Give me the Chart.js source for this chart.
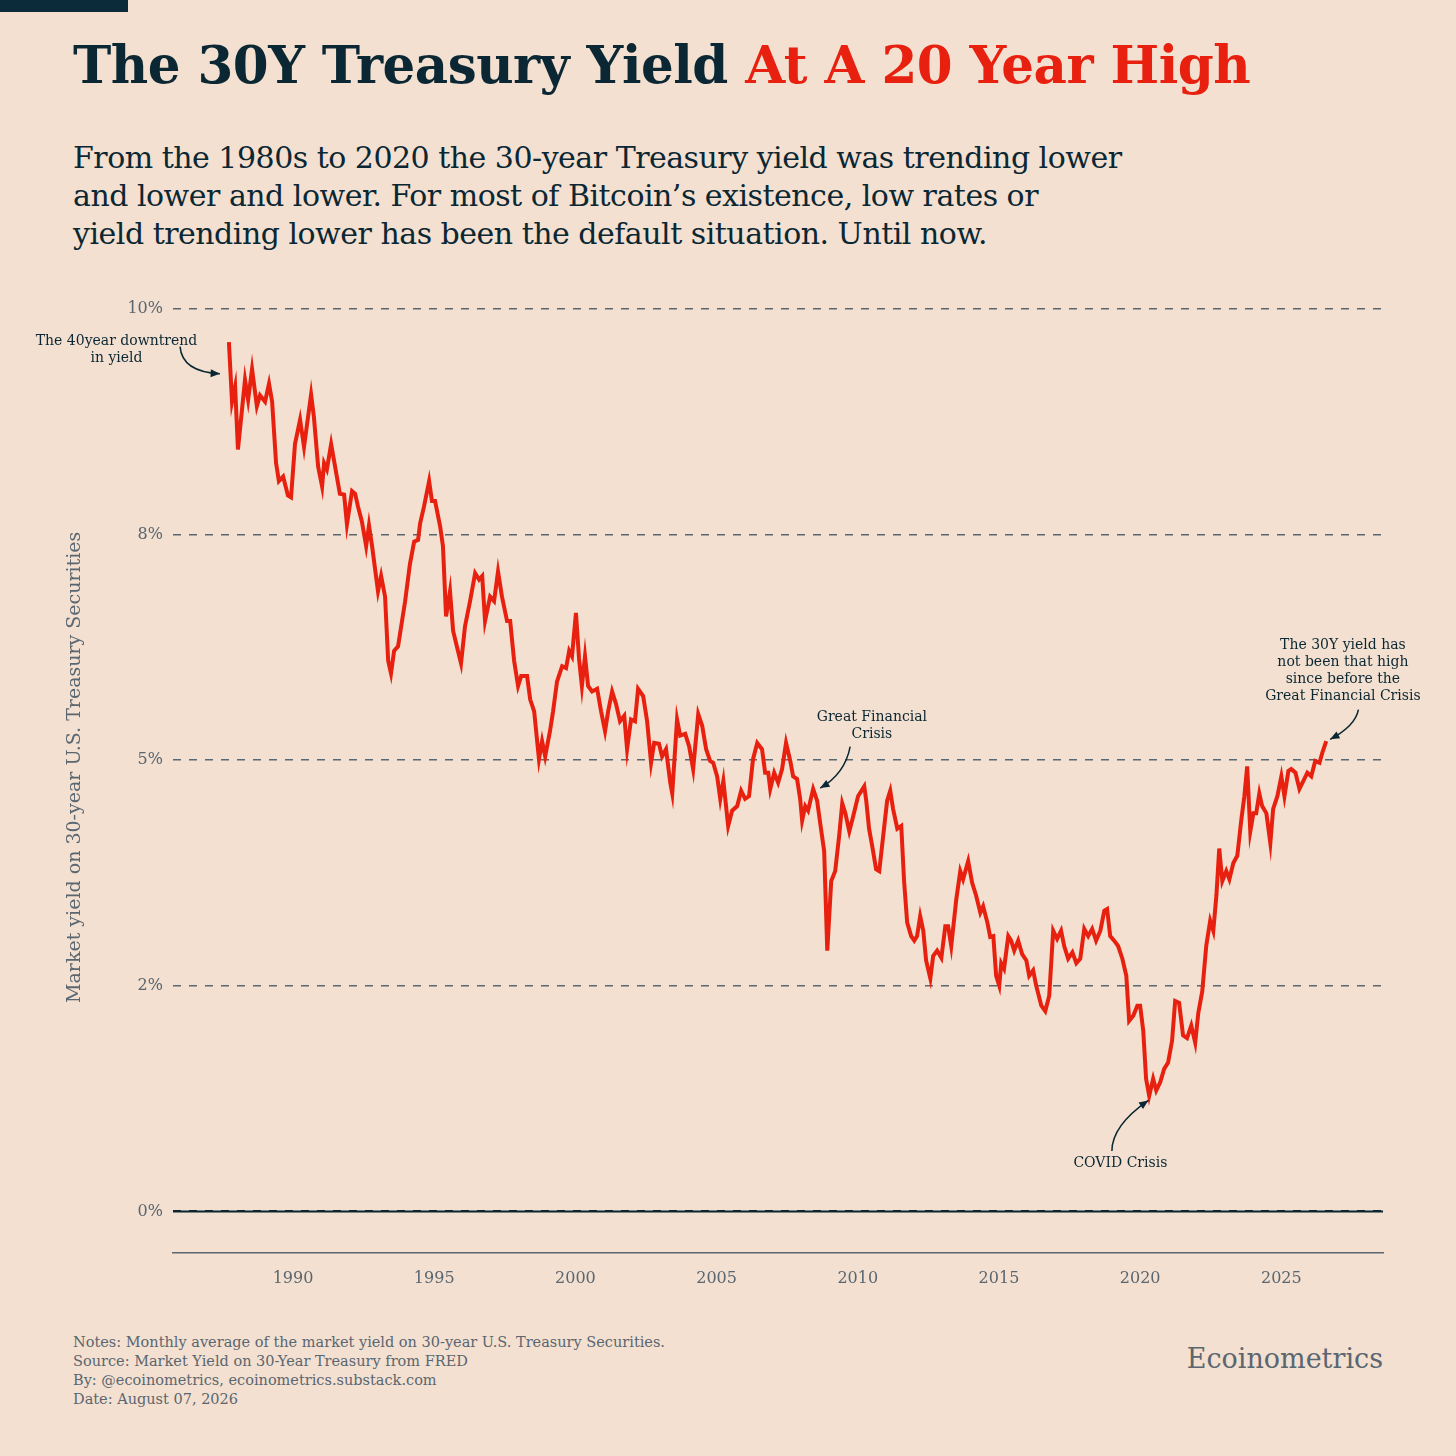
<!DOCTYPE html>
<html lang="en">
<head>
  <meta charset="UTF-8" />
  <title>The 30Y Treasury Yield At A 20 Year High</title>
  <script src="https://cdn.jsdelivr.net/npm/chart.js"></script>
  <style>
    html, body { margin: 0; padding: 0; }
    body { width: 1456px; height: 1456px; background: #f3e0d0; position: relative; overflow: hidden; font-family: "DejaVu Serif", Georgia, serif; }
    #bar { position: absolute; left: 0; top: 0; width: 128px; height: 12px; background: #0b2a3a; }
    h1 { position: absolute; left: 73px; top: 35px; margin: 0; font-size: 51.5px; font-weight: bold; color: #0b2733; letter-spacing: -0.5px; }
    h1 span { color: #e8200f; }
    #sub { position: absolute; left: 73px; top: 139px; margin: 0; font-size: 30px; line-height: 38px; color: #0b2733; letter-spacing: -0.5px; }
    #wrap { position: absolute; left: 0; top: 262px; width: 1456px; height: 1031px; }
    #notes { position: absolute; left: 73px; top: 1333px; font-size: 14.5px; line-height: 19px; color: #5a6670; }
    #brand { position: absolute; right: 73px; top: 1343px; font-size: 27px; color: #5a6670; }
  </style>
</head>
<body>
  <div id="bar"></div>
  <h1>The 30Y Treasury Yield <span>At A 20 Year High</span></h1>
  <p id="sub">From the 1980s to 2020 the 30-year Treasury yield was trending lower<br>and lower and lower. For most of Bitcoin’s existence, low rates or<br>yield trending lower has been the default situation. Until now.</p>
  <div id="wrap"><canvas id="c"></canvas></div>
  <div id="notes">Notes: Monthly average of the market yield on 30-year U.S. Treasury Securities.<br>Source: Market Yield on 30-Year Treasury from FRED<br>By: @ecoinometrics, ecoinometrics.substack.com<br>Date: August 07, 2026</div>
  <div id="brand">Ecoinometrics</div>

  <script>
    // dates (fractional years) and yields (%)
    const years = [1987.73,1987.84,1987.95,1988.05,1988.30,1988.41,1988.55,1988.72,1988.83,1989.01,1989.15,1989.26,1989.40,1989.50,1989.65,1989.82,1989.93,1990.07,1990.25,1990.39,1990.64,1990.74,1990.89,1991.03,1991.10,1991.20,1991.35,1991.49,1991.66,1991.81,1991.91,1992.09,1992.20,1992.30,1992.44,1992.59,1992.69,1992.80,1993.01,1993.12,1993.26,1993.37,1993.47,1993.58,1993.72,1993.97,1994.14,1994.29,1994.43,1994.50,1994.64,1994.82,1994.92,1995.03,1995.21,1995.31,1995.42,1995.56,1995.67,1995.84,1995.95,1996.09,1996.27,1996.45,1996.59,1996.70,1996.80,1996.98,1997.12,1997.26,1997.40,1997.58,1997.69,1997.83,1997.97,1998.08,1998.29,1998.40,1998.54,1998.71,1998.82,1998.93,1999.10,1999.21,1999.35,1999.53,1999.67,1999.78,1999.88,2000.02,2000.13,2000.23,2000.34,2000.45,2000.59,2000.77,2000.91,2001.05,2001.16,2001.30,2001.44,2001.58,2001.73,2001.83,2001.97,2002.11,2002.22,2002.40,2002.54,2002.68,2002.79,2002.96,2003.07,2003.21,2003.36,2003.43,2003.60,2003.71,2003.89,2004.03,2004.17,2004.35,2004.49,2004.63,2004.77,2004.88,2005.02,2005.13,2005.24,2005.41,2005.55,2005.73,2005.87,2006.01,2006.15,2006.29,2006.44,2006.61,2006.72,2006.83,2006.90,2007.04,2007.18,2007.32,2007.46,2007.61,2007.71,2007.85,2007.96,2008.03,2008.14,2008.24,2008.42,2008.56,2008.67,2008.81,2008.92,2009.06,2009.20,2009.34,2009.45,2009.56,2009.70,2009.84,2010.01,2010.23,2010.30,2010.40,2010.51,2010.65,2010.76,2010.90,2011.04,2011.15,2011.25,2011.40,2011.54,2011.64,2011.75,2011.89,2012.00,2012.10,2012.21,2012.32,2012.42,2012.57,2012.67,2012.81,2012.96,2013.10,2013.20,2013.31,2013.49,2013.63,2013.73,2013.91,2014.05,2014.19,2014.34,2014.44,2014.59,2014.69,2014.80,2014.90,2015.01,2015.08,2015.18,2015.33,2015.43,2015.54,2015.68,2015.82,2015.97,2016.07,2016.21,2016.32,2016.50,2016.64,2016.78,2016.92,2017.06,2017.20,2017.31,2017.45,2017.60,2017.74,2017.88,2018.02,2018.16,2018.30,2018.44,2018.59,2018.73,2018.83,2018.94,2019.08,2019.22,2019.37,2019.51,2019.61,2019.76,2019.90,2020.00,2020.11,2020.21,2020.32,2020.46,2020.57,2020.71,2020.85,2020.99,2021.13,2021.24,2021.38,2021.52,2021.66,2021.81,2021.95,2022.06,2022.20,2022.34,2022.48,2022.59,2022.70,2022.80,2022.91,2023.05,2023.16,2023.30,2023.44,2023.58,2023.69,2023.79,2023.90,2024.01,2024.11,2024.22,2024.32,2024.47,2024.61,2024.71,2024.86,2025.00,2025.11,2025.25,2025.35,2025.50,2025.64,2025.78,2025.92,2026.06,2026.20,2026.35,2026.45,2026.59];
    const yields = [9.63,8.97,9.14,8.44,9.21,8.99,9.33,8.92,9.04,8.97,9.17,8.97,8.29,8.09,8.14,7.93,7.91,8.50,8.77,8.47,9.05,8.80,8.25,8.03,8.29,8.22,8.50,8.25,7.95,7.94,7.61,7.98,7.95,7.81,7.64,7.37,7.60,7.37,6.87,7.04,6.81,6.10,5.96,6.21,6.26,6.76,7.17,7.42,7.44,7.62,7.81,8.09,7.87,7.87,7.59,7.37,6.59,6.87,6.43,6.21,6.07,6.48,6.76,7.07,7.00,7.04,6.54,6.81,6.76,7.09,6.81,6.54,6.54,6.10,5.82,5.93,5.93,5.67,5.54,5.01,5.21,5.04,5.32,5.54,5.87,6.04,6.02,6.21,6.15,6.63,6.12,5.82,6.15,5.82,5.76,5.79,5.54,5.32,5.54,5.76,5.62,5.43,5.49,5.12,5.45,5.43,5.79,5.71,5.43,4.97,5.19,5.18,5.04,5.12,4.75,4.63,5.45,5.27,5.29,5.15,4.90,5.51,5.38,5.12,4.99,4.97,4.82,4.57,4.77,4.27,4.44,4.49,4.66,4.57,4.60,5.01,5.19,5.12,4.86,4.86,4.68,4.86,4.75,4.90,5.19,4.99,4.82,4.79,4.57,4.33,4.49,4.44,4.68,4.55,4.30,3.99,2.89,3.66,3.77,4.16,4.52,4.41,4.21,4.38,4.60,4.71,4.55,4.24,4.05,3.79,3.77,4.16,4.55,4.66,4.46,4.24,4.27,3.66,3.20,3.05,3.00,3.05,3.27,3.11,2.78,2.58,2.83,2.89,2.81,3.16,3.16,2.94,3.46,3.77,3.68,3.88,3.64,3.50,3.31,3.38,3.20,3.04,3.05,2.61,2.50,2.75,2.69,3.05,3.00,2.89,3.00,2.85,2.78,2.61,2.67,2.50,2.28,2.22,2.39,3.11,3.02,3.11,2.94,2.80,2.87,2.75,2.80,3.13,3.05,3.13,3.00,3.11,3.33,3.35,3.05,3.00,2.94,2.80,2.61,2.11,2.17,2.28,2.28,2.00,1.47,1.28,1.47,1.34,1.43,1.58,1.65,1.89,2.33,2.31,1.95,1.92,2.06,1.87,2.20,2.44,2.94,3.22,3.11,3.50,4.02,3.66,3.77,3.68,3.86,3.94,4.33,4.60,4.93,4.21,4.41,4.41,4.63,4.49,4.41,4.08,4.46,4.60,4.82,4.60,4.88,4.90,4.86,4.68,4.77,4.86,4.82,4.99,4.97,5.08,5.21];

    const yTicks = [0, 2.5, 5, 7.5, 10];
    const yTickLabels = ['0%', '2%', '5%', '8%', '10%'];
    const xTicks = [1990, 1995, 2000, 2005, 2010, 2015, 2020, 2025];

    // annotations: text anchor (year, %), arrow start, control point, arrow tip
    const notes = [
      { lines: ['The 40year downtrend', 'in yield'], x: 1983.75, y: 9.6, from: [1986.0, 9.58], c: [1986.07, 9.3], to: [1987.41, 9.28] },
      { lines: ['Great Financial', 'Crisis'], x: 2010.5, y: 5.43, from: [2009.73, 5.15], c: [2009.55, 4.85], to: [2008.67, 4.69] },
      { lines: ['COVID Crisis'], x: 2019.3, y: 0.49, from: [2019.0, 0.67], c: [2019.0, 0.95], to: [2020.29, 1.23] },
      { lines: ['The 30Y yield has', 'not been that high', 'since before the', 'Great Financial Crisis'], x: 2027.18, y: 6.23, from: [2027.73, 5.56], c: [2027.62, 5.38], to: [2026.73, 5.23] }
    ];

    const annotate = {
      id: 'annotate',
      afterDatasetsDraw(chart) {
        const { ctx, scales: { x, y } } = chart;
        ctx.save();
        ctx.fillStyle = '#0b2733';
        ctx.strokeStyle = '#0b2733';
        ctx.font = '14px "DejaVu Serif", serif';
        ctx.textAlign = 'center';
        ctx.lineWidth = 1.5;
        notes.forEach(n => {
          n.lines.forEach((t, i) => ctx.fillText(t, x.getPixelForValue(n.x), y.getPixelForValue(n.y) + i * 17));
          const fx = x.getPixelForValue(n.from[0]), fy = y.getPixelForValue(n.from[1]);
          const tx = x.getPixelForValue(n.to[0]), ty = y.getPixelForValue(n.to[1]);
          const cx = x.getPixelForValue(n.c[0]), cy = y.getPixelForValue(n.c[1]);
          ctx.beginPath();
          ctx.moveTo(fx, fy);
          ctx.quadraticCurveTo(cx, cy, tx, ty);
          ctx.stroke();
          const a = Math.atan2(ty - cy, tx - cx);
          ctx.beginPath();
          ctx.moveTo(tx, ty);
          ctx.lineTo(tx - 10 * Math.cos(a - 0.4), ty - 10 * Math.sin(a - 0.4));
          ctx.lineTo(tx - 10 * Math.cos(a + 0.4), ty - 10 * Math.sin(a + 0.4));
          ctx.closePath();
          ctx.fill();
        });
        ctx.restore();
      }
    };

    Chart.defaults.font.family = '"DejaVu Serif", serif';
    new Chart(document.getElementById('c'), {
      type: 'line',
      data: {
        datasets: [{
          data: years.map((v, i) => ({ x: v, y: yields[i] })),
          borderColor: '#e8200f',
          borderWidth: 4,
          pointRadius: 0,
          tension: 0
        }]
      },
      options: {
        responsive: true,
        maintainAspectRatio: false,
        animation: false,
        layout: { padding: { left: 64, right: 73, top: 0, bottom: 0 } },
        plugins: { legend: { display: false }, tooltip: { enabled: false } },
        scales: {
          x: {
            type: 'linear', min: 1985.75, max: 2028.6,
            afterBuildTicks: s => { s.ticks = xTicks.map(v => ({ value: v })); },
            afterFit: s => { s.height = 40; },
            grid: { display: false },
            border: { color: '#5a6670', width: 1.5 },
            ticks: { color: '#5a6670', font: { size: 16 }, padding: 8, callback: v => v }
          },
          y: {
            min: -0.46, max: 10.3,
            afterBuildTicks: s => { s.ticks = yTicks.map(v => ({ value: v })); },
            afterFit: s => { s.width = 109; },
            grid: {
              drawTicks: false,
              color: c => c.tick.value === 0 ? '#0b2733' : '#5a6670',
              lineWidth: c => c.tick.value === 0 ? 2 : 1.5,
            },
            border: { display: false, dash: [8, 8] },
            ticks: { color: '#5a6670', font: { size: 16 }, padding: 10, callback: v => yTickLabels[yTicks.indexOf(v)] },
            title: { display: true, text: 'Market yield on 30-year U.S. Treasury Securities', color: '#5a6670', font: { size: 19 }, padding: { top: 0, bottom: 0 } }
          }
        }
      },
      plugins: [annotate, {
        id: 'solidZero',
        afterDraw(chart) {
          const { ctx, chartArea, scales: { y } } = chart;
          const py = y.getPixelForValue(0);
          ctx.save();
          ctx.strokeStyle = '#0b2733';
          ctx.lineWidth = 2;
          ctx.beginPath(); ctx.moveTo(chartArea.left, py); ctx.lineTo(chartArea.right, py); ctx.stroke();
          ctx.restore();
        }
      }]
    });
  </script>
</body>
</html>
